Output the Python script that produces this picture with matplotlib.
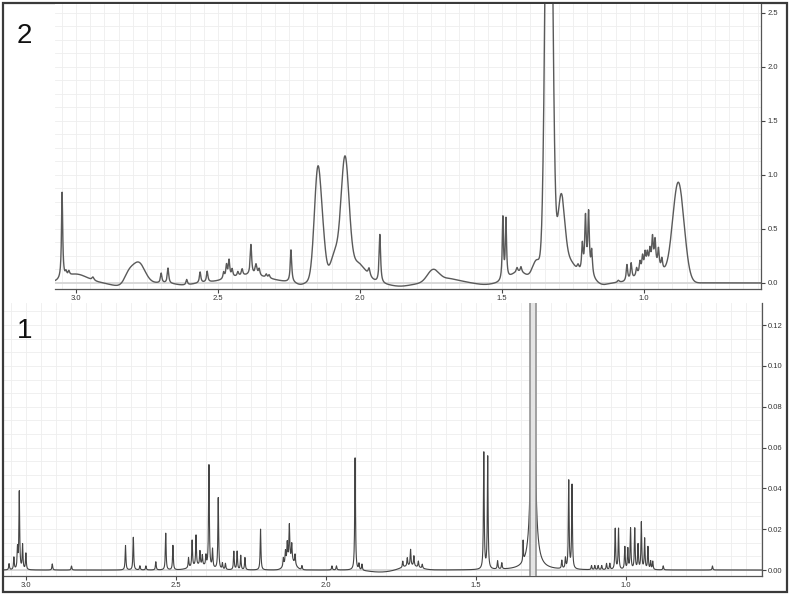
"""
Два 1H ЯМР спектра: 2 - сверху, 1 - снизу, диапазон ~3.07-0.55 ppm
"""
import numpy as np

import matplotlib
matplotlib.use('Agg')
import matplotlib.pyplot as plt
from matplotlib.patches import Rectangle
from matplotlib.ticker import MultipleLocator

W, H = 790, 595

# --- спектр 2 (верхний) ---
# узкие линии (лоренц): положение, высота, полуширина
top_sharp_ppm = [3.049, 3.035, 3.025, 2.94, 2.70, 2.676, 2.61, 2.563, 2.538, 2.48, 2.47, 2.461,
                 2.45, 2.43, 2.415, 2.384, 2.366, 2.355, 2.33, 2.32, 2.243, 1.968, 1.93, 1.497,
                 1.486, 1.447, 1.433, 1.232, 1.217, 1.206, 1.195, 1.184, 1.09, 1.06, 1.045, 1.026,
                 1.014, 1.005, 0.996, 0.988, 0.979, 0.970, 0.961, 0.949, 0.937]
top_sharp_height = [0.80, 0.04, 0.04, 0.03, 0.09, 0.14, 0.05, 0.10, 0.10, 0.06, 0.12, 0.16,
                    0.07, 0.04, 0.06, 0.28, 0.10, 0.06, 0.03, 0.03, 0.30, 0.07, 0.45, 0.58,
                    0.55, 0.04, 0.05, 0.05, 0.25, 0.50, 0.55, 0.22, 0.02, 0.15, 0.15, 0.07,
                    0.10, 0.13, 0.14, 0.12, 0.14, 0.25, 0.23, 0.17, 0.10]
top_sharp_hwhm = [0.0025, 0.003, 0.003, 0.004, 0.003, 0.003, 0.003, 0.003, 0.003, 0.003, 0.003, 0.003,
                  0.003, 0.003, 0.003, 0.003, 0.004, 0.003, 0.003, 0.003, 0.003, 0.004, 0.003, 0.0025,
                  0.0025, 0.003, 0.003, 0.004, 0.003, 0.003, 0.003, 0.003, 0.004, 0.003, 0.003, 0.003,
                  0.003, 0.003, 0.003, 0.003, 0.003, 0.003, 0.003, 0.003, 0.003]
# широкие компоненты (гаусс): положение, высота, сигма
top_broad_ppm = [3.00, 2.85, 2.815, 2.78, 2.62, 2.39, 2.21, 2.148, 2.128, 2.10, 2.088, 2.053, 2.01,
                 1.86, 1.743, 1.69, 1.56, 1.44, 1.377, 1.335, 1.292, 1.27, 1.20, 1.145, 0.97, 0.879]
top_broad_height = [0.08, -0.025, 0.08, 0.19, -0.02, 0.07, -0.02, 1.02, 0.12, 0.12, 0.15, 1.05, 0.18,
                    -0.03, 0.11, 0.04, -0.015, 0.10, 0.20, 6.0, 0.66, 0.22, 0.07, -0.02, 0.15, 0.92]
top_broad_sigma = [0.04, 0.03, 0.015, 0.022, 0.03, 0.07, 0.015, 0.0125, 0.008, 0.04, 0.012, 0.014, 0.03,
                   0.04, 0.02, 0.04, 0.03, 0.03, 0.015, 0.011, 0.012, 0.028, 0.02, 0.02, 0.04, 0.02]

# --- спектр 1 (нижний) ---
bot_sharp_ppm = [3.056, 3.04, 3.028, 3.022, 3.011, 3.0, 2.912, 2.848, 2.668, 2.642, 2.62, 2.60,
                 2.567, 2.534, 2.51, 2.458, 2.446, 2.433, 2.42, 2.412, 2.40, 2.39, 2.378, 2.359,
                 2.345, 2.335, 2.307, 2.296, 2.284, 2.27, 2.218, 2.142, 2.135, 2.129, 2.122, 2.114,
                 2.103, 2.08, 1.98, 1.965, 1.903, 1.89, 1.88, 1.744, 1.729, 1.718, 1.707, 1.692,
                 1.679, 1.474, 1.461, 1.428, 1.414, 1.343, 1.310, 1.310, 1.214, 1.202, 1.191,
                 1.18, 1.115, 1.104, 1.093, 1.081, 1.065, 1.054, 1.036, 1.025, 1.004, 0.994, 0.985,
                 0.971, 0.96, 0.949, 0.938, 0.927, 0.918, 0.911, 0.876, 0.712]
bot_sharp_height = [0.003, 0.006, 0.010, 0.038, 0.012, 0.008, 0.003, 0.002, 0.012, 0.016, 0.002, 0.002,
                    0.004, 0.018, 0.012, 0.005, 0.013, 0.015, 0.007, 0.005, 0.005, 0.050, 0.009, 0.035,
                    0.003, 0.003, 0.009, 0.009, 0.007, 0.006, 0.020, 0.004, 0.006, 0.009, 0.017, 0.008,
                    0.005, 0.002, 0.002, 0.002, 0.055, 0.003, 0.003, 0.003, 0.004, 0.008, 0.005, 0.003,
                    0.002, 0.057, 0.055, 0.004, 0.003, 0.010, 1.2, 0.04, 0.004, 0.005, 0.043,
                    0.041, 0.002, 0.002, 0.002, 0.002, 0.003, 0.003, 0.020, 0.020, 0.011, 0.010, 0.020,
                    0.020, 0.012, 0.023, 0.015, 0.011, 0.004, 0.004, 0.002, 0.002]
bot_sharp_hwhm = [0.0015] * 53 + [0.001, 0.0015, 0.008] + [0.0015] * 24
bot_broad_ppm = [2.42, 2.12, 1.82, 1.72]
bot_broad_height = [0.002, 0.005, -0.001, 0.002]
bot_broad_sigma = [0.03, 0.015, 0.04, 0.03]

# выделенная (вырезанная) область в спектре 1
bot_band_ppm = [1.320, 1.300]


def build_spectrum(ppm, sharp, broad):
    """
    Сумма лоренцевых (узких) и гауссовых (широких) линий
    :param ppm: ось химсдвигов
    :param sharp: (положения, высоты, полуширины)
    :param broad: (положения, высоты, сигмы)
    :return: интенсивность
    """
    y = np.zeros_like(ppm)
    for c, h, w in zip(*sharp):
        y += h * w ** 2 / (w ** 2 + (ppm - c) ** 2)
    for c, h, s in zip(*broad):
        y += h * np.exp(-0.5 * ((ppm - c) / s) ** 2)
    return y


def style_axes(ax, x_lim, y_lim, y_major, y_minor):
    ax.set_xlim(x_lim)
    ax.set_ylim(y_lim)
    ax.xaxis.set_major_locator(MultipleLocator(0.5))
    ax.xaxis.set_minor_locator(MultipleLocator(0.05))
    ax.yaxis.set_major_locator(MultipleLocator(y_major))
    ax.yaxis.set_minor_locator(MultipleLocator(y_minor))
    ax.yaxis.tick_right()
    ax.grid(which='both', color='#eeeeee', linewidth=0.6)
    ax.set_axisbelow(True)
    for side in ('top', 'left'):
        ax.spines[side].set_visible(False)
    for side in ('bottom', 'right'):
        ax.spines[side].set_color('#555555')
        ax.spines[side].set_linewidth(0.9)
    ax.tick_params(which='minor', length=0)
    ax.tick_params(which='major', length=3, width=0.8, color='#444444', labelsize=5.5,
                   labelcolor='#333333', pad=1.5)
    for lbl in ax.get_xticklabels() + ax.get_yticklabels():
        lbl.set_family('Liberation Sans')
    ax.axhline(0, color='#d8d8d8', linewidth=1.4, zorder=1)


ppm_axis = np.arange(0.5, 3.1, 0.0002)
spec_2 = build_spectrum(ppm_axis, (top_sharp_ppm, top_sharp_height, top_sharp_hwhm),
                        (top_broad_ppm, top_broad_height, top_broad_sigma))
spec_1 = build_spectrum(ppm_axis, (bot_sharp_ppm, bot_sharp_height, bot_sharp_hwhm),
                        (bot_broad_ppm, bot_broad_height, bot_broad_sigma))

fig = plt.figure(figsize=(W / 100, H / 100), dpi=100)
ax_top = fig.add_axes([55 / W, 1 - 289 / H, (761 - 55) / W, (289 - 4) / H])
ax_bot = fig.add_axes([4 / W, 1 - 576 / H, (762 - 4) / W, (576 - 303) / H])
ax_top.set_zorder(2)

ax_top.plot(ppm_axis, spec_2, color='#5a5a5a', linewidth=1.0, zorder=3)
style_axes(ax_top, (3.074, 0.588), (-0.0556, 2.583), 0.5, 0.125)

ax_bot.plot(ppm_axis, spec_1, color='#444444', linewidth=0.8, zorder=3)
ax_bot.axvspan(*bot_band_ppm, facecolor='#e4e4e4', edgecolor='none', zorder=4)
for b in bot_band_ppm:
    ax_bot.axvline(b, color='#8c8c8c', linewidth=1.1, zorder=5)
style_axes(ax_bot, (3.073, 0.547), (-0.0029, 0.1308), 0.02, 0.02 / 3)

fig.text(17 / W, 1 - 43 / H, '2', fontsize=20, family='Liberation Sans', va='baseline', color='#111111')
fig.text(17 / W, 1 - 338 / H, '1', fontsize=20, family='Liberation Sans', va='baseline', color='#111111')

fig.patches.append(Rectangle((3 / W, 3 / H), 784 / W, 589 / H, fill=False, edgecolor='#3a3a3a',
                             linewidth=1.6, transform=fig.transFigure, figure=fig))

fig.savefig('out.png', dpi=100)
